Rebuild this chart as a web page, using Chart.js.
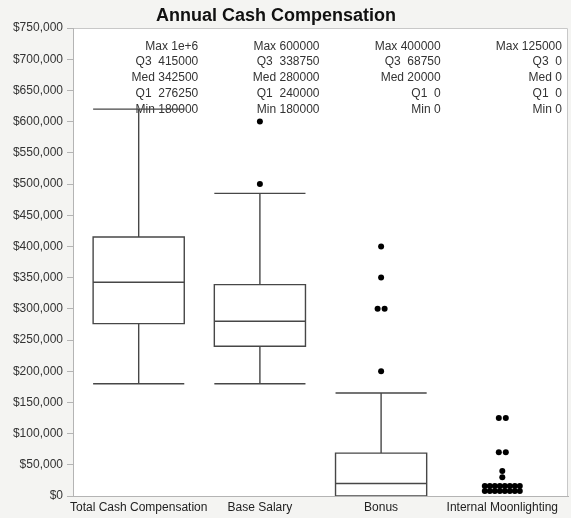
<!DOCTYPE html>
<html>
<head>
<meta charset="utf-8">
<script src="https://cdn.jsdelivr.net/npm/chart.js@4.4.0/dist/chart.umd.min.js"></script>
<style>
    html, body { margin: 0; padding: 0; background: #f4f4f2; }
    #wrap { width: 571px; height: 518px; }
</style>
</head>
<body>
<div id="wrap"><canvas id="boxChart" width="571" height="518"></canvas></div>
<script>
// categories and summary stats (as printed at the top of each box)
var categories = ['Total Cash Compensation', 'Base Salary', 'Bonus', 'Internal Moonlighting'];
var statMax = [1000000, 600000, 400000, 125000];
var statQ3 = [415000, 338750, 68750, 0];
var statMed = [342500, 280000, 20000, 0];
var statQ1 = [276250, 240000, 0, 0];
var statMin = [180000, 180000, 0, 0];
// whisker ends (1.5 IQR fences)
var whiskerHigh = [620000, 485000, 165000, 0];
var whiskerLow = [180000, 180000, 0, 0];
// points outside the whiskers
var outliers = [
    [1000000],
    [500000, 600000],
    [200000, 300000, 300000, 350000, 400000],
    [0, 0, 0, 0, 0, 0, 0, 0, 0, 0, 0, 0, 0, 0, 0, 0, 30000, 40000, 70000, 70000, 125000, 125000]
];
// y axis ticks
var yMin = 0;
var yMax = 750000;
var yStep = 50000;

var boxHalf = 0.376;

function fmtStat(v) {
    return v >= 1000000 ? v.toExponential() : String(v);
}

var pointData = [];
for (var i = 0; i < outliers.length; i++) {
    for (var j = 0; j < outliers[i].length; j++) {
        pointData.push({ x: i, y: outliers[i][j] });
    }
}

Chart.defaults.font.family = '"Liberation Sans", Arial, Helvetica, sans-serif';
Chart.defaults.font.size = 12;
Chart.defaults.color = '#333';

// page background, white plot area, frame and title
var frame = {
    id: 'frame',
    beforeDraw: function (chart) {
        var ctx = chart.ctx, a = chart.chartArea;
        ctx.save();
        ctx.fillStyle = '#f4f4f2';
        ctx.fillRect(0, 0, chart.width, chart.height);
        ctx.fillStyle = '#ffffff';
        ctx.fillRect(a.left, a.top, a.right - a.left, a.bottom - a.top);
        ctx.strokeStyle = '#c8c8c8';
        ctx.lineWidth = 1;
        ctx.beginPath();
        ctx.moveTo(a.left, a.top + 0.5);
        ctx.lineTo(a.right - 0.5, a.top + 0.5);
        ctx.lineTo(a.right - 0.5, a.bottom);
        ctx.stroke();
        ctx.fillStyle = '#111';
        ctx.font = 'bold 18px "Liberation Sans", Arial, sans-serif';
        ctx.textAlign = 'center';
        ctx.textBaseline = 'alphabetic';
        ctx.fillText('Annual Cash Compensation', 276, 21);
        ctx.restore();
    }
};

// boxes, whiskers and stat text
var boxes = {
    id: 'boxes',
    beforeDatasetsDraw: function (chart) {
        var ctx = chart.ctx, a = chart.chartArea;
        var xs = chart.scales.x, ys = chart.scales.y;
        ctx.save();
        ctx.font = '12px "Liberation Sans", Arial, sans-serif';
        ctx.fillStyle = '#333';
        ctx.textAlign = 'right';
        ctx.textBaseline = 'alphabetic';
        for (var i = 0; i < categories.length; i++) {
            var tx = xs.getPixelForValue(i + 0.5) - 1;
            var lines = ['Max ' + fmtStat(statMax[i]), 'Q3  ' + statQ3[i], 'Med ' + statMed[i],
                         'Q1  ' + statQ1[i], 'Min ' + statMin[i]];
            for (var k = 0; k < lines.length; k++) {
                ctx.fillText(lines[k], tx, a.top + 21.5 + k * 15.75);
            }
        }
        ctx.beginPath();
        ctx.rect(a.left, a.top, a.right - a.left, a.bottom - a.top);
        ctx.clip();
        ctx.strokeStyle = '#474747';
        ctx.lineWidth = 1.4;
        for (var i = 0; i < categories.length; i++) {
            // a box with no spread at all is left out (it would sit on the axis)
            if (whiskerHigh[i] === whiskerLow[i]) continue;
            var l = xs.getPixelForValue(i - boxHalf);
            var r = xs.getPixelForValue(i + boxHalf);
            var m = xs.getPixelForValue(i);
            var y1 = ys.getPixelForValue(statQ1[i]);
            var y3 = ys.getPixelForValue(statQ3[i]);
            var ym = ys.getPixelForValue(statMed[i]);
            var yh = ys.getPixelForValue(whiskerHigh[i]);
            var yl = ys.getPixelForValue(whiskerLow[i]);
            ctx.beginPath();
            ctx.rect(l, y3, r - l, y1 - y3);
            ctx.moveTo(l, ym); ctx.lineTo(r, ym);
            ctx.moveTo(m, y3); ctx.lineTo(m, yh);
            ctx.moveTo(l, yh); ctx.lineTo(r, yh);
            if (yl !== y1) {
                ctx.moveTo(m, y1); ctx.lineTo(m, yl);
                ctx.moveTo(l, yl); ctx.lineTo(r, yl);
            }
            ctx.stroke();
        }
        ctx.restore();
    }
};

// spread equal values sideways like a dot swarm
var swarm = {
    id: 'swarm',
    afterDatasetUpdate: function (chart, args) {
        var ds = chart.data.datasets[args.index];
        var pts = args.meta.data;
        var groups = {};
        for (var k = 0; k < pts.length; k++) {
            var key = ds.data[k].x + '|' + ds.data[k].y;
            (groups[key] = groups[key] || []).push(pts[k]);
        }
        Object.keys(groups).forEach(function (key) {
            var g = groups[key];
            var packed = g.length > 2;
            var pitch = packed ? 5 : 7;
            var perRow = 8;
            for (var j = 0; j < g.length; j++) {
                var row = Math.floor(j / perRow);
                var inRow = Math.min(perRow, g.length - row * perRow);
                var col = j % perRow;
                g[j].x += (col - (inRow - 1) / 2) * pitch;
                if (packed) g[j].y -= (row + 1) * pitch;
            }
        });
    }
};

new Chart(document.getElementById('boxChart'), {
    type: 'scatter',
    data: {
        datasets: [{
            data: pointData,
            pointRadius: 3,
            pointBackgroundColor: '#000',
            pointBorderWidth: 0,
            pointHoverRadius: 3
        }]
    },
    options: {
        responsive: false,
        animation: false,
        events: [],
        layout: { padding: { top: 28, right: 1, left: 0, bottom: 0 } },
        plugins: {
            legend: { display: false },
            title: { display: false },
            tooltip: { enabled: false }
        },
        scales: {
            x: {
                type: 'linear',
                min: -0.542,
                max: 3.542,
                afterFit: function (s) { s.height = 22; },
                afterBuildTicks: function (s) {
                    s.ticks = categories.map(function (c, i) { return { value: i }; });
                },
                grid: { display: false, drawTicks: false },
                border: { display: true, color: '#b4b4b4', width: 1 },
                ticks: {
                    autoSkip: false,
                    maxRotation: 0,
                    padding: 4,
                    color: '#222',
                    callback: function (v) { return categories[v]; }
                }
            },
            y: {
                min: yMin,
                max: yMax,
                afterFit: function (s) { s.width = 73; },
                grid: { drawOnChartArea: false, drawTicks: true, tickLength: 6, color: '#b4b4b4' },
                border: { display: true, color: '#b4b4b4', width: 1 },
                ticks: {
                    stepSize: yStep,
                    padding: 4,
                    color: '#333',
                    callback: function (v) { return '$' + v.toLocaleString('en-US'); }
                }
            }
        }
    },
    plugins: [frame, boxes, swarm]
});
</script>
</body>
</html>
